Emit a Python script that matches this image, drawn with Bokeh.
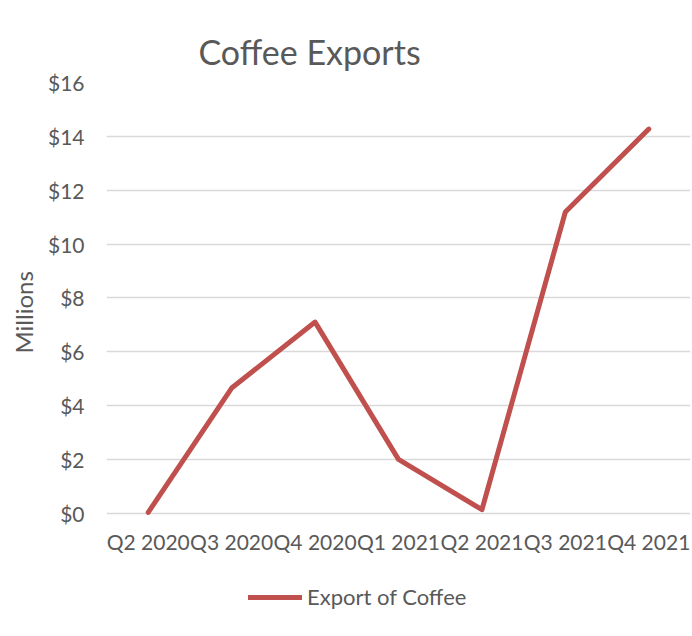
from bokeh.plotting import figure
from bokeh.models import (FactorRange, Range1d, FixedTicker, NumeralTickFormatter,
                          Legend, LegendItem, ColumnDataSource, Title)
from bokeh.embed import file_html
from bokeh.resources import INLINE

quarters = ["Q2 2020", "Q3 2020", "Q4 2020", "Q1 2021", "Q2 2021", "Q3 2021", "Q4 2021"]
exports_millions = [0.03, 4.65, 7.1, 2.0, 0.13, 11.19, 14.27]
y_ticks = [0, 2, 4, 6, 8, 10, 12, 14, 16]

FONT = "Lato"
TXT = "#595959"
GRID = "#D9D9D9"
RED = "#C0504D"

src = ColumnDataSource(dict(q=quarters, v=exports_millions))

# the frame reaches down to the page bottom so that the legend can sit inside it;
# the x axis is pinned at y = 0
p = figure(width=692, height=636, output_backend="svg", toolbar_location=None,
           x_range=FactorRange(factors=quarters, range_padding=0),
           y_range=Range1d(-4.58, 16),
           min_border_left=105, min_border_right=2, min_border_top=82, min_border_bottom=0,
           background_fill_color="white", border_fill_color="white")
p.outline_line_color = None

p.title.text = "Coffee Exports"
p.title.text_font = FONT
p.title.text_font_size = "34px"
p.title.text_font_style = "normal"
p.title.text_color = TXT
p.title.align = "left"
p.title.offset = 92
p.title.standoff = 22

r = p.line("q", "v", source=src, line_color=RED, line_width=5,
           line_cap="round", line_join="round")

# axes
p.xaxis.fixed_location = 0
p.xaxis.axis_line_color = None
p.xaxis.major_tick_line_color = None
p.xaxis.minor_tick_line_color = None
p.xaxis.major_label_text_font = FONT
p.xaxis.major_label_text_font_size = "21px"
p.xaxis.major_label_text_color = TXT
p.xaxis.major_label_standoff = 10

p.yaxis.ticker = FixedTicker(ticks=y_ticks)
p.yaxis.formatter = NumeralTickFormatter(format="$0")
p.yaxis.axis_line_color = None
p.yaxis.major_tick_line_color = None
p.yaxis.minor_tick_line_color = None
p.yaxis.major_label_text_font = FONT
p.yaxis.major_label_text_font_size = "21px"
p.yaxis.major_label_text_color = TXT
p.yaxis.major_label_standoff = 16

ytitle = Title(text="Millions", align="left", offset=283, standoff=13,
               text_font=FONT, text_font_size="24px", text_font_style="normal",
               text_color=TXT)
p.add_layout(ytitle, "left")

p.xgrid.grid_line_color = None
p.ygrid.grid_line_color = GRID
p.ygrid.grid_line_width = 1.5
p.ygrid.ticker = FixedTicker(ticks=y_ticks)

legend = Legend(items=[LegendItem(label="Export of Coffee", renderers=[r])],
                location=(142, 26), orientation="horizontal",
                glyph_width=54, glyph_height=20, label_standoff=5,
                label_text_font=FONT, label_text_font_size="22px",
                label_text_color=TXT, padding=0, margin=0, spacing=0,
                border_line_color=None, background_fill_alpha=0)
p.add_layout(legend)

open("out.html", "w").write(file_html(p, INLINE))
